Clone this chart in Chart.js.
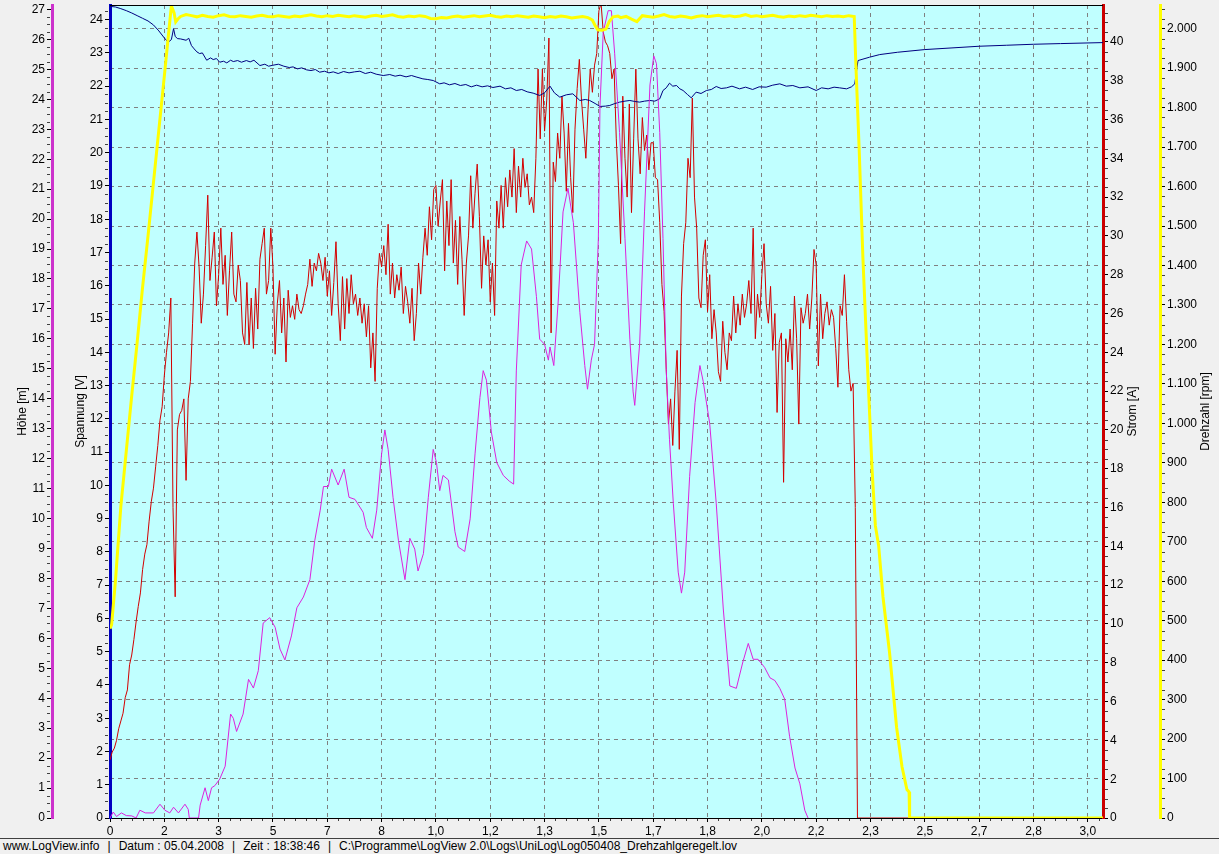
<!DOCTYPE html>
<html>
<head>
<meta charset="utf-8">
<title>LogView - Log050408_Drehzahlgeregelt</title>
<script src="https://cdn.jsdelivr.net/npm/chart.js@4/dist/chart.umd.min.js"></script>
<style>
  html, body { margin: 0; padding: 0; background: #f0f0f0; }
  #wrap { width: 1219px; height: 854px; overflow: hidden; }
  canvas { display: block; }
  #footer {
    height: 15px; border-top: 1px solid #404040; padding-left: 3px;
    font: 12px "Liberation Sans", Arial, sans-serif; line-height: 15px;
    white-space: pre; color: #000;
  }
  #footer .sep { margin: 0 8px; }
</style>
</head>
<body>
<div id="wrap">
  <canvas id="chart" width="1219" height="838"></canvas>
  <div id="footer">www.LogView.info<span class="sep">|</span>Datum : 05.04.2008<span class="sep">|</span>Zeit : 18:38:46<span class="sep">|</span>C:\Programme\LogView 2.0\Logs\UniLog\Log050408_Drehzahlgeregelt.lov</div>
</div>
<script>
// time axis in seconds, labelled in minutes the way LogView prints them
const X_MAX = 182.8;
const xTickLabels = ["0", "2", "3", "5", "7", "8", "1,0", "1,2", "1,3", "1,5", "1,7", "1,8",
  "2,0", "2,2", "2,3", "2,5", "2,7", "2,8", "3,0"];

// Drehzahl [rpm]
const rpmTime = [0, 0.3, 1, 2, 3, 4, 5, 6, 7, 8, 9, 10, 10.8, 11.3, 11.8, 12.1, 12.6,
  13, 14, 15, 16, 17, 18, 19, 20, 21, 22, 23, 24, 25, 26, 27, 28, 29, 30, 31, 32, 33, 34, 35,
  36, 37, 38, 39, 40, 41, 42, 43, 44, 45, 46, 47, 48, 49, 50, 51, 52, 53, 54, 55, 56, 57, 58,
  59, 60, 61, 62, 63, 64, 65, 66, 67, 68, 69, 70, 71, 72, 73, 74, 75, 76, 77, 78, 79, 80, 81,
  82, 83, 84, 85, 86, 87, 88, 88.8, 89.3, 89.8, 90.6, 91.3, 91.9, 92.6, 93.5,
  94, 95, 96, 97, 98, 99, 100, 101, 102, 103, 104, 105, 106, 107, 108, 109, 110, 111, 112,
  113, 114, 115, 116, 117, 118, 119, 120, 121, 122, 123, 124, 125, 126, 127, 128, 129, 130,
  131, 132, 133, 134, 135, 136, 137, 137.3, 137.9, 138.6, 139.4, 140.3, 140.9, 141.5, 142.3,
  143.5, 144.8, 145.8, 146.7, 147.1, 147.2, 182.8];
const rpmValues = [480, 490, 600, 790, 930, 1070, 1205, 1345, 1475, 1610, 1745, 1880, 1990, 2058, 2040, 2017, 2026,
  2031, 2036, 2033, 2030, 2034, 2031, 2029, 2033, 2035, 2031, 2030, 2033, 2031, 2029, 2032, 2034, 2031, 2030, 2033, 2031, 2029, 2032, 2030,
  2033, 2035, 2032, 2030, 2033, 2031, 2034, 2032, 2030, 2033, 2031, 2029, 2032, 2034, 2031, 2033, 2035, 2031, 2029, 2032, 2030, 2033, 2031,
  2026, 2025, 2028, 2027, 2030, 2032, 2029, 2031, 2033, 2030, 2032, 2034, 2031, 2029, 2032, 2030, 2033, 2031, 2029, 2032, 2030, 2028, 2031,
  2029, 2032, 2030, 2027, 2029, 2031, 2028, 2022, 2008, 1997, 1996, 1999, 2018, 2030, 2032,
  2028, 2031, 2024, 2018, 2033, 2031, 2029, 2032, 2036, 2031, 2029, 2032, 2030, 2027, 2031, 2033, 2030, 2032, 2034,
  2031, 2033, 2030, 2032, 2036, 2031, 2033, 2030, 2032, 2034, 2031, 2029, 2032, 2030, 2033, 2031, 2034, 2032,
  2030, 2033, 2031, 2032, 2030, 2033, 2031, 1911, 1700, 1420, 1160, 880, 740, 690, 560,
  420, 230, 130, 72, 66, 0, 0];

// Spannung [V]
const voltTime = [0, 1, 2, 3, 4, 5, 6, 7, 8, 9, 10, 10.7, 11.3, 11.7, 12.0, 12.4, 13, 14, 14.5, 15.0,
  15.5, 16.0, 16.5, 17.0, 17.8, 18.5, 19.0, 19.6, 20.2, 20.9, 21.5, 22.2, 22.7, 23.5, 24.2, 25.1,
  25.8, 26.5, 27.6, 28.5, 29.2, 30.0, 31.0, 32.0, 33.0, 33.7, 34.5, 35.3, 36.2, 37.0, 37.8, 38.6,
  39.5, 40.3, 41.1, 42.0, 43.0, 44.0, 45.0, 46.0, 47.0, 48.0, 49.0, 50.3, 51.5, 52.5, 53.4, 54.5,
  55.5, 56.5, 57.6, 58.5, 59.5, 60.7, 61.5, 62.5, 63.5, 64.5, 65.5, 66.5, 67.5, 68.5, 69.5, 70.5,
  71.8, 72.8, 73.8, 74.8, 75.8, 76.8, 77.9, 79.1, 80.0, 81.0, 81.8, 82.8, 84.0, 85.2, 86.5, 87.5,
  88.3, 89.3, 90.2, 91.2, 92.0, 92.8, 93.8, 94.8, 95.7, 96.6, 97.5, 98.4, 99.4, 100.3, 101.2,
  101.8, 102.4, 103.0, 103.6, 104.3, 104.9, 105.5, 106.3, 107.0, 107.9, 108.8, 109.8, 110.7,
  111.6, 112.5, 113.5, 114.5, 115.9, 117.0, 118.3, 119.5, 120.8, 122.0, 123.3, 124.5, 125.7,
  127.0, 128.5, 130.0, 131.0, 132.2, 133.3, 134.3, 135.6, 136.5, 137.1, 137.4, 137.7, 139.8,
  141.7, 145, 150, 155, 160, 165, 170, 175, 182.8];
const voltValues = [24.40, 24.38, 24.33, 24.27, 24.20, 24.12, 24.04, 23.96, 23.84, 23.66, 23.45, 23.32, 23.40, 23.73, 23.50, 23.43, 23.42, 23.38, 23.44, 23.22,
  23.12, 23.03, 22.98, 23.00, 22.78, 22.85, 22.80, 22.83, 22.72, 22.75, 22.70, 22.78, 22.74, 22.77, 22.72, 22.77,
  22.73, 22.78, 22.62, 22.66, 22.60, 22.63, 22.66, 22.60, 22.56, 22.58, 22.52, 22.55, 22.49, 22.47, 22.50, 22.42,
  22.45, 22.40, 22.43, 22.38, 22.44, 22.40, 22.43, 22.45, 22.38, 22.42, 22.36, 22.32, 22.35, 22.30, 22.33, 22.28,
  22.32, 22.27, 22.22, 22.20, 22.17, 22.07, 22.10, 22.04, 22.08, 22.02, 22.05, 21.98, 22.03, 21.98, 22.01, 21.96,
  22.00, 21.92, 21.95, 21.87, 21.90, 21.83, 21.79, 21.72, 21.80, 22.00, 21.80, 21.67, 21.74, 21.77, 21.57, 21.60,
  21.57, 21.48, 21.39, 21.40, 21.42, 21.47, 21.52, 21.55, 21.57, 21.54, 21.52, 21.55, 21.57, 21.55, 21.62,
  21.87, 21.95, 22.09, 22.00, 22.02, 21.92, 21.87, 21.75, 21.65, 21.82, 21.78, 21.87, 21.90,
  21.99, 21.93, 21.95, 22.00, 21.92, 21.97, 21.90, 21.98, 21.97, 22.03, 22.07, 22.00, 22.02,
  21.95, 21.98, 21.87, 21.95, 21.92, 21.97, 21.95, 21.92, 21.98, 22.07, 22.42, 22.77, 22.87,
  22.95, 23.02, 23.10, 23.15, 23.20, 23.23, 23.26, 23.28, 23.31];

// Strom [A], one sample every 0.4 s from t = 0
const STROM_STEP = 0.4;
const stromValues = [
  3.0, 3.4, 3.6, 4.0, 4.6, 5.0, 5.4, 6.2, 6.6, 7.9, 8.4, 9.2, 10.1, 10.9, 11.6, 12.8, 13.6, 14.1, 15.3, 16.3, 17.0, 18.1, 19.2, 20.5, 21.2,
  22.8, 24.0, 25.0, 26.8, 16.0, 11.4, 20.0, 20.8, 21.0, 21.6, 17.4, 21.6, 22.5, 25.5, 28.6, 30.2, 28.4, 25.5, 27.0, 29.5, 32.1, 27.7, 28.9, 30.2, 26.4,
  28.0, 30.4, 27.5, 29.0, 25.9, 28.2, 30.2, 27.0, 26.6, 28.5, 27.7, 25.0, 24.4, 27.6, 24.4, 26.8, 24.2, 27.3, 25.2, 28.8, 29.6, 30.4, 27.0, 27.7, 30.4,
  28.4, 23.9, 26.5, 27.7, 25.0, 26.8, 23.5, 27.2, 25.8, 26.4, 25.7, 27.0, 26.2, 26.0, 26.4, 27.0, 27.5, 28.8, 27.4, 28.6, 28.2, 29.1, 28.6, 27.7, 28.9,
  26.9, 28.2, 25.9, 27.6, 29.7, 26.5, 24.6, 27.9, 25.2, 27.8, 26.0, 28.0, 26.5, 27.0, 25.9, 26.8, 25.5, 26.5, 24.8, 26.4, 23.2, 25.0, 22.5, 27.3, 29.1,
  28.4, 29.5, 28.0, 30.6, 27.0, 28.6, 26.8, 28.0, 27.2, 28.4, 26.0, 27.4, 26.6, 25.5, 27.3, 24.6, 26.0, 28.6, 27.0, 28.9, 30.4, 29.0, 31.5, 29.8, 32.4,
  32.6, 30.5, 31.8, 32.9, 28.2, 31.8, 29.5, 32.9, 28.6, 30.8, 27.5, 31.0, 28.8, 25.9, 28.6, 30.0, 33.1, 30.4, 32.2, 33.7, 31.0, 27.3, 30.0, 28.5, 29.8,
  26.6, 28.6, 25.9, 31.8, 30.4, 32.6, 30.4, 33.0, 31.5, 33.4, 32.0, 34.5, 31.2, 33.6, 32.0, 34.0, 32.5, 33.2, 31.6, 32.0, 31.2, 34.0, 38.6, 35.0, 38.6,
  35.4, 37.0, 40.2, 25.0, 33.8, 32.8, 35.3, 34.0, 37.2, 35.3, 32.3, 35.8, 33.0, 31.2, 35.5, 37.6, 39.1, 37.0, 35.5, 34.0, 36.5, 38.6, 37.4, 38.8, 39.4,
  41.6, 42.0, 40.5, 40.0, 39.8, 39.4, 38.1, 38.6, 35.0, 32.6, 29.6, 37.2, 34.0, 32.0, 36.8, 31.2, 35.0, 38.6, 35.0, 33.2, 36.1, 34.4, 35.2, 33.4, 34.8,
  34.8, 33.0, 32.9, 30.7, 27.5, 26.1, 23.1, 20.3, 21.6, 19.2, 22.0, 24.1, 19.0, 26.9, 29.6, 30.7, 34.0, 33.0, 37.1, 32.0, 30.4, 26.8, 26.3, 29.0, 29.8,
  26.1, 28.0, 24.7, 26.2, 25.0, 23.0, 22.5, 25.6, 24.0, 23.1, 25.0, 24.6, 26.9, 25.0, 26.5, 25.4, 27.0, 25.8, 26.5, 27.7, 26.0, 30.4, 24.7, 27.0, 25.8,
  28.0, 29.6, 26.5, 25.5, 27.4, 24.1, 26.0, 20.9, 24.5, 25.0, 17.3, 24.7, 23.5, 25.2, 23.1, 26.9, 24.7, 20.3, 26.3, 25.5, 26.0, 27.0, 25.2, 26.8, 29.3,
  28.5, 23.3, 27.0, 24.7, 26.0, 26.6, 25.4, 26.2, 25.8, 24.2, 22.2, 26.4, 25.9, 28.0, 25.6, 23.1, 22.0, 22.4, 16.0, 0.0
];
const stromTailTime = [182.8];
const stromTailValues = [0];

// Höhe [m]
const hoeheTime = [0, 0.6, 1.2, 2.1, 3.0, 4.0, 4.8, 5.5, 6.5, 8.0, 9.2, 10.1, 11.0, 11.7, 12.6, 13.8, 14.4, 14.6,
  16.3, 16.6, 17.5, 18.1, 18.7, 19.3, 20.2, 21.2, 22.2, 22.7, 23.3, 24.5, 25.5, 26.4, 27.3, 28.2, 29.4,
  30.4, 31.3, 32.2, 33.4, 34.4, 35.6, 36.8, 37.7, 38.7, 39.3, 40.2, 40.8, 42.0, 43.1, 44.0, 45.1, 46.6,
  47.2, 48.3, 49.1, 50.0, 50.6, 51.2, 52.1, 53.1, 54.3, 55.2, 56.1, 56.7, 57.7, 58.6, 59.5, 60.1, 60.7,
  61.3, 62.3, 63.5, 64.1, 65.3, 66.3, 67.2, 68.1, 68.7, 69.3, 70.2, 71.2, 72.4, 73.5, 74.3, 74.8, 75.7,
  76.7, 77.6, 78.5, 79.1, 80.0, 80.7, 81.0, 81.7, 82.5, 83.4, 84.3, 85.3, 86.5, 87.4, 87.9, 88.6, 89.2,
  89.9, 90.2, 90.8, 91.7, 92.3, 92.9, 93.8, 94.8, 95.7, 96.3, 96.6, 97.5, 98.4, 99.4, 100.1, 100.6,
  101.2, 101.8, 102.4, 103.0, 103.7, 104.6, 105.2, 105.8, 106.7, 107.7, 108.6, 109.2, 110.4, 111.6,
  112.9, 114.1, 115.3, 116.5, 117.5, 118.4, 119.3, 120.5, 121.5, 122.4, 123.3, 124.2, 125.1, 126.1,
  127.0, 127.9, 128.5];
const hoeheValues = [0, 0.2, 0.05, 0.17, 0.08, 0.07, 0, 0.26, 0.17, 0.17, 0.46, 0.26, 0.17, 0.36, 0.17, 0.46, 0.29, 0,
  0, 0.43, 1.01, 0.58, 1.01, 1.08, 1.3, 1.73, 3.47, 3.33, 2.89, 3.47, 4.63, 4.34, 4.92, 6.51, 6.69,
  6.37, 5.64, 5.28, 6.08, 7.02, 7.38, 7.96, 9.27, 10.28, 11.07, 11.07, 11.65, 11.12, 11.65, 10.71, 10.64, 10.21,
  9.7, 9.34, 10.28, 12.16, 12.96, 12.31, 10.71, 9.27, 7.96, 9.34, 8.98, 8.25, 8.83, 10.71, 12.31, 11.87, 10.93,
  11.44, 11.29, 9.56, 9.05, 8.9, 9.99, 12.16, 14.04, 14.94, 14.62, 12.89, 11.87, 11.44, 11.25, 11.15, 14.93, 18.47,
  19.27, 19.0, 17.41, 15.99, 15.82, 15.29, 15.73, 15.11, 17.23, 20.24, 21.03, 19.88, 16.88, 15.11, 14.32, 15.29, 15.82,
  19.35, 23.77, 26.25, 26.96, 26.96, 25.54, 22.89, 19.35, 15.99, 14.23, 13.78, 15.82, 20.24, 24.48, 25.45, 25.19,
  22.89, 19.35, 14.93, 12.63, 10.51, 8.21, 7.51, 8.21, 11.4, 13.87, 15.11, 14.58, 13.17, 10.51,
  6.98, 4.41, 4.33, 5.21, 5.83, 5.3, 5.3, 5.03, 4.68, 4.59, 4.33, 3.97, 2.73, 1.67,
  1.14, 0.26, 0];

const FONT = { family: '"Liberation Sans", Arial, sans-serif', size: 12 };

function toPoints(times, values) {
  return times.map((t, i) => ({ x: t, y: values[i] }));
}

const stromTime = stromValues.map((v, i) => Math.round(i * STROM_STEP * 10) / 10);

// fixes an axis box size so the plot lands where LogView puts it
function fixSize(size) {
  return (scale) => {
    if (scale.isHorizontal()) {
      scale.height = size;
      scale.paddingLeft = 0;
      scale.paddingRight = 0;
    } else {
      scale.width = size;
      scale.paddingTop = 0;
      scale.paddingBottom = 0;
    }
  };
}

function fmtRpm(v) {
  if (v < 1000) return String(v);
  return Math.floor(v / 1000) + "." + String(v % 1000).padStart(3, "0");
}

function sideAxis(position, weight, max, step, borderColor, width, extra) {
  return Object.assign({
    type: "linear",
    position: position,
    weight: weight,
    min: 0,
    max: max,
    afterFit: fixSize(width),
    ticks: { stepSize: step, includeBounds: false, color: "#000", font: FONT, padding: 2 },
    grid: { drawOnChartArea: false, tickLength: 5, tickColor: "#000", color: "#000" },
    border: { color: borderColor, width: 3 }
  }, extra);
}

// minor tick spacing per axis (in axis units)
const minorSteps = { x: 2, yH: 0.25, yV: 0.25, yA: 0.5, yR: 25 };

const plotFrame = {
  id: "plotFrame",
  beforeDraw(chart) {
    const { ctx, chartArea: a } = chart;
    ctx.save();
    ctx.fillStyle = "#c0ffff";
    ctx.fillRect(a.left, a.top, a.right - a.left, a.bottom - a.top);
    ctx.restore();
  },
  afterDraw(chart) {
    const { ctx, chartArea: a } = chart;
    ctx.save();
    ctx.strokeStyle = "#000";
    ctx.lineWidth = 1;
    ctx.beginPath();
    ctx.moveTo(a.left, a.top + 0.5);
    ctx.lineTo(a.right, a.top + 0.5);
    ctx.stroke();

    // small in-between ticks on every axis
    ctx.strokeStyle = "#404040";
    ctx.beginPath();
    Object.keys(minorSteps).forEach((id) => {
      const s = chart.scales[id];
      const step = minorSteps[id];
      const major = s.options.ticks.stepSize;
      for (let k = 1; k * step < s.max; k++) {
        const v = k * step;
        if (Math.abs(v / major - Math.round(v / major)) < 1e-6) continue;
        const p = Math.round(s.getPixelForValue(v)) + 0.5;
        if (id === "x") {
          ctx.moveTo(p, s.top + 1);
          ctx.lineTo(p, s.top + 3);
        } else if (s.position === "left") {
          ctx.moveTo(s.right - 2, p);
          ctx.lineTo(s.right - 5, p);
        } else {
          ctx.moveTo(s.left + 2, p);
          ctx.lineTo(s.left + 5, p);
        }
      }
    });
    ctx.stroke();

    // right-hand titles read bottom-up like the left ones
    [["yA", "Strom [A]", 27], ["yR", "Drehzahl [rpm]", 13]].forEach(([id, text, off]) => {
      const s = chart.scales[id];
      ctx.save();
      ctx.translate(s.right - off, (s.top + s.bottom) / 2);
      ctx.rotate(-Math.PI / 2);
      ctx.font = '12px "Liberation Sans", Arial, sans-serif';
      ctx.fillStyle = "#000";
      ctx.textAlign = "center";
      ctx.textBaseline = "middle";
      ctx.fillText(text, 0, 0);
      ctx.restore();
    });
    ctx.restore();
  }
};

new Chart(document.getElementById("chart"), {
  type: "line",
  data: {
    datasets: [
      {
        label: "Drehzahl",
        data: toPoints(rpmTime, rpmValues),
        yAxisID: "yR",
        borderColor: "#ffff00",
        borderWidth: 3,
        order: 0
      },
      {
        label: "Höhe",
        data: toPoints(hoeheTime, hoeheValues),
        yAxisID: "yH",
        borderColor: "#dd22dd",
        borderWidth: 1,
        order: 1
      },
      {
        label: "Spannung",
        data: toPoints(voltTime, voltValues),
        yAxisID: "yV",
        borderColor: "#000080",
        borderWidth: 1,
        order: 2
      },
      {
        label: "Strom",
        data: toPoints(stromTime.concat(stromTailTime), stromValues.concat(stromTailValues)),
        yAxisID: "yA",
        borderColor: "#d40000",
        borderWidth: 1,
        order: 3
      }
    ]
  },
  options: {
    responsive: false,
    animation: false,
    devicePixelRatio: 1,
    layout: { padding: { top: 5, left: 0, right: 0, bottom: 0 } },
    elements: { point: { radius: 0 }, line: { tension: 0 } },
    plugins: { legend: { display: false }, tooltip: { enabled: false } },
    scales: {
      x: {
        type: "linear",
        position: "bottom",
        min: 0,
        max: X_MAX,
        afterFit: fixSize(20),
        ticks: {
          stepSize: 10,
          includeBounds: false,
          autoSkip: false,
          maxRotation: 0,
          color: "#000",
          font: FONT,
          padding: 2,
          callback: (v) => xTickLabels[Math.round(v / 10)]
        },
        grid: { color: "#808080", tickColor: "#000", tickLength: 4, tickBorderDash: [] },
        border: { color: "#000", width: 1, dash: [4, 4] }
      },
      yH: sideAxis("left", 2, 27.15, 1, "#cc33cc", 52, {
        title: { display: true, text: "Höhe [m]", color: "#000", font: FONT, padding: { top: 15 } }
      }),
      yV: sideAxis("left", 1, 24.44, 1, "#0000c0", 58, {
        title: { display: true, text: "Spannung [V]", color: "#000", font: FONT, padding: { top: 21 } }
      }),
      yA: sideAxis("right", 1, 41.9, 2, "#cc0000", 57),
      yR: sideAxis("right", 2, 2060, 100, "#ffff00", 59, {
        ticks: { stepSize: 100, includeBounds: false, color: "#000", font: FONT, padding: 2, callback: fmtRpm },
        grid: { drawOnChartArea: true, color: "#808080", tickLength: 5, tickColor: "#000", tickBorderDash: [] },
        border: { color: "#ffff00", width: 3, dash: [4, 4] }
      })
    }
  },
  plugins: [plotFrame]
});
</script>
</body>
</html>
